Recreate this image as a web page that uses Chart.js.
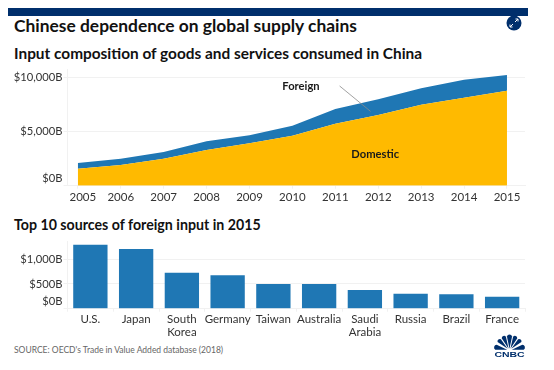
<!DOCTYPE html>
<html>
<head>
<meta charset="utf-8">
<script src="https://cdn.jsdelivr.net/npm/chart.js@4"></script>
<style>
  html, body { margin: 0; padding: 0; background: #fff; }
  body { width: 554px; height: 370px; position: relative; overflow: hidden; font-family: Lato, sans-serif; }
  canvas { position: absolute; left: 0; }
  .text { position: absolute; left: 14px; white-space: nowrap; color: #111; font-weight: 700; }
  #topbar { position: absolute; left: 8px; top: 8px; width: 520px; height: 8px; background: #002f6c; }
  #title { top: 16px; font-size: 17.4px; line-height: 20px; }
  #sub1 { top: 43px; font-size: 15.4px; line-height: 20px; }
  #sub2 { top: 215px; font-size: 14.2px; line-height: 20px; }
  #source { top: 344px; font-size: 8.5px; line-height: 12px; color: #666; font-weight: 400; }
  svg { position: absolute; }
</style>
</head>
<body>
<div id="topbar"></div>
<div class="text" id="title">Chinese dependence on global supply chains</div>
<div class="text" id="sub1">Input composition of goods and services consumed in China</div>
<div class="text" id="sub2">Top 10 sources of foreign input in 2015</div>
<div class="text" id="source">SOURCE: OECD's Trade in Value Added database (2018)</div>
<canvas id="area_chart" width="554" height="205" style="top:0"></canvas>
<canvas id="bar_chart" width="554" height="165" style="top:205px"></canvas>
<svg style="left:506px;top:15px" width="16" height="16" viewBox="0 0 16 16">
  <circle cx="8" cy="8" r="7.5" fill="#002f6c"/>
  <path d="M4 12l3-3M12 4L9 7M4 12V9.5M4 12h2.5M12 4v2.5M12 4H9.5" stroke="#fff" stroke-width="1" fill="none"/>
</svg>
<svg style="left:492.5px;top:334px" width="33" height="24" viewBox="0 0 36 26">
  <g fill="#002f6c">
    <path d="M18 16L15.2 2.5a2.9 2.9 0 0 1 5.6 0z"/>
    <path d="M17 16L9.5 4.5a2.6 2.6 0 0 1 4.6-1.6z"/>
    <path d="M19 16l7.5-11.5a2.6 2.6 0 0 0-4.6-1.6z"/>
    <path d="M16 16L5 8.5a2.6 2.6 0 0 1 3.6-3z"/>
    <path d="M20 16l11-7.5a2.6 2.6 0 0 0-3.6-3z"/>
    <path d="M15.5 17H2.5a3 3 0 0 1 1.5-5.5z"/>
    <path d="M20.5 17h13a3 3 0 0 0-1.5-5.5z"/>
  </g>
  <text x="18" y="25" text-anchor="middle" font-family="Liberation Sans" font-weight="700" font-size="8.5" textLength="33" lengthAdjust="spacingAndGlyphs" fill="#002f6c">CNBC</text>
</svg>
<script>
"use strict";

const years = [2005, 2006, 2007, 2008, 2009, 2010, 2011, 2012, 2013, 2014, 2015];
const domesticValues = [1570, 1910, 2490, 3290, 3910, 4610, 5720, 6520, 7470, 8120, 8770];
const foreignValues = [520, 580, 620, 805, 740, 925, 1355, 1450, 1515, 1660, 1440];
const areaTicks = [0, 5000, 10000];

const countries = ["U.S.", "Japan", ["South", "Korea"], "Germany", "Taiwan", "Australia", ["Saudi", "Arabia"], "Russia", "Brazil", "France"];
const countryValues = [1296, 1208, 729, 676, 500, 498, 378, 304, 291, 243];
const barTicks = [0, 500, 1000];

const tickFont = { family: "Lato", size: 11.5, lineHeight: 1.15 };
const tickColor = "#333";
const gridColor = "#f1f1f1";

function money(value) {
  return "$" + value.toLocaleString("en-US") + "B";
}

// y labels are drawn by hand because the $0B one sits above its baseline
const yLabels = {
  id: "yLabels",
  afterDraw(chart) {
    const ctx = chart.ctx;
    const scale = chart.scales.y;
    ctx.save();
    ctx.font = "11.2px Lato";
    ctx.fillStyle = tickColor;
    ctx.textAlign = "right";
    ctx.textBaseline = "middle";
    scale.ticks.forEach((tick) => {
      const shift = tick.value === 0 ? -7 : 0;
      ctx.fillText(money(tick.value), 62.5, scale.getPixelForValue(tick.value) + shift);
    });
    ctx.restore();
  },
};

// same idea for the years: 2005 is nudged right, clear of the axis
const yearLabels = {
  id: "yearLabels",
  afterDraw(chart) {
    const ctx = chart.ctx;
    const scale = chart.scales.x;
    ctx.save();
    ctx.font = "11.5px Lato";
    ctx.fillStyle = tickColor;
    ctx.textAlign = "center";
    ctx.textBaseline = "middle";
    years.forEach((year) => {
      const shift = year === years[0] ? 5 : 0;
      ctx.fillText(String(year), scale.getPixelForValue(year) + shift, 197);
    });
    ctx.restore();
  },
};

// the two labels and the leader line are anchored in data space
const areaNotes = {
  id: "areaNotes",
  afterDraw(chart) {
    const ctx = chart.ctx;
    const x = chart.scales.x;
    const y = chart.scales.y;
    ctx.save();
    ctx.strokeStyle = "#8a8a8a";
    ctx.lineWidth = 0.8;
    ctx.beginPath();
    ctx.moveTo(x.getPixelForValue(2011.1), y.getPixelForValue(9200));
    ctx.lineTo(x.getPixelForValue(2011.82), y.getPixelForValue(6860));
    ctx.stroke();
    ctx.font = "bold 11.2px Lato";
    ctx.fillStyle = "#1a1a1a";
    ctx.textAlign = "center";
    ctx.textBaseline = "middle";
    ctx.fillText("Foreign", x.getPixelForValue(2010.2), y.getPixelForValue(9200));
    ctx.fillText("Domestic", x.getPixelForValue(2011.93), y.getPixelForValue(2870));
    ctx.restore();
  },
};

const areaChart = new Chart(document.getElementById("area_chart").getContext("2d"), {
  type: "line",
  data: {
    labels: years,
    datasets: [
      { label: "Domestic", data: domesticValues, backgroundColor: "#ffba00", borderWidth: 0, pointRadius: 0, fill: "origin", tension: 0 },
      { label: "Foreign", data: foreignValues, backgroundColor: "#1f77b4", borderWidth: 0, pointRadius: 0, fill: "-1", tension: 0 },
    ],
  },
  options: {
    responsive: false,
    animation: false,
    layout: { padding: { top: 69.3, right: 29 } },
    plugins: { legend: { display: false }, tooltip: { enabled: false } },
    scales: {
      x: {
        type: "linear",
        min: 2004.76,
        max: 2015.42,
        afterBuildTicks(scale) { scale.ticks = years.map((value) => ({ value })); },
        afterFit(scale) { scale.height = 19.3; },
        grid: { drawOnChartArea: false, color: gridColor, tickLength: 3 },
        border: { color: gridColor },
        ticks: { display: false },
      },
      y: {
        stacked: true,
        min: 0,
        max: 10738,
        afterBuildTicks(scale) { scale.ticks = areaTicks.map((value) => ({ value })); },
        afterFit(scale) { scale.width = 67.5; },
        grid: { color: gridColor, tickLength: 4 },
        border: { color: gridColor },
        ticks: { display: false },
      },
    },
  },
  plugins: [yLabels, yearLabels, areaNotes],
});

const barChart = new Chart(document.getElementById("bar_chart").getContext("2d"), {
  type: "bar",
  data: {
    labels: countries,
    datasets: [{ data: countryValues, backgroundColor: "#1f77b4", barPercentage: 0.75, categoryPercentage: 1 }],
  },
  options: {
    responsive: false,
    animation: false,
    layout: { padding: { top: 36.7, right: 29 } },
    plugins: { legend: { display: false }, tooltip: { enabled: false } },
    scales: {
      x: {
        afterFit(scale) { scale.height = 61.3; },
        grid: { drawOnChartArea: false, color: gridColor, tickLength: 3 },
        border: { color: gridColor },
        ticks: { font: tickFont, color: tickColor, padding: 1, maxRotation: 0, autoSkip: false },
      },
      y: {
        min: 0,
        max: 1356,
        afterBuildTicks(scale) { scale.ticks = barTicks.map((value) => ({ value })); },
        afterFit(scale) { scale.width = 67.5; },
        grid: { color: gridColor, tickLength: 4 },
        border: { color: gridColor },
        ticks: { display: false },
      },
    },
  },
  plugins: [yLabels],
});
</script>
</body>
</html>
